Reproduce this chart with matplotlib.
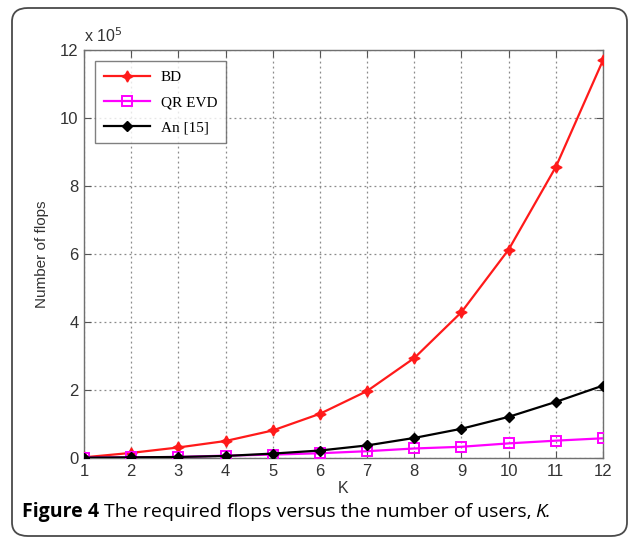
import matplotlib
matplotlib.use("Agg")
import matplotlib.pyplot as plt
from matplotlib.patches import FancyBboxPatch
from matplotlib.ticker import FuncFormatter

plt.rcParams["font.family"] = ["Liberation Sans", "DejaVu Sans"]

# Number of users
K = [1, 2, 3, 4, 5, 6, 7, 8, 9, 10, 11, 12]

# Required flops for each scheme
flops_bd = [0.02e5, 0.15e5, 0.31e5, 0.50e5, 0.81e5, 1.30e5, 1.97e5, 2.94e5, 4.29e5, 6.13e5, 8.56e5, 11.70e5]
flops_qr_evd = [0.01e5, 0.02e5, 0.03e5, 0.07e5, 0.10e5, 0.14e5, 0.20e5, 0.28e5, 0.33e5, 0.43e5, 0.51e5, 0.58e5]
flops_an = [0.01e5, 0.02e5, 0.03e5, 0.06e5, 0.13e5, 0.22e5, 0.37e5, 0.59e5, 0.86e5, 1.21e5, 1.65e5, 2.13e5]

series_labels = ["BD", "QR EVD", "An [15]"]
y_ticks = [0, 2e5, 4e5, 6e5, 8e5, 10e5, 12e5]

W, H = 635, 542
fig = plt.figure(figsize=(W / 100, H / 100), dpi=100)

# rounded frame around figure and caption
frame = FancyBboxPatch((12 / W, 6 / H), (W - 20) / W, (H - 14) / H,
                       boxstyle="round,pad=0,rounding_size=0.025",
                       transform=fig.transFigure, facecolor="none",
                       edgecolor="#4a4a4a", linewidth=1.3, zorder=-5)
fig.patches.append(frame)

ax = fig.add_axes([84 / W, 1 - 458 / H, (603 - 84) / W, (458 - 50) / H])

ax.plot(K, flops_bd, color="#ff1a1a", lw=1.6, marker=(4, 1, 0), ms=8,
        label=series_labels[0], zorder=3)
ax.plot(K, flops_qr_evd, color="#ff00ff", lw=1.6, marker="s", ms=7,
        mfc="none", mew=1.4, label=series_labels[1], zorder=3)
ax.plot(K, flops_an, color="black", lw=1.6, marker="D", ms=5,
        label=series_labels[2], zorder=4)

ax.set_xlim(1, 12)
ax.set_ylim(0, 12e5)
ax.set_xticks(K)
ax.set_yticks(y_ticks)
ax.yaxis.set_major_formatter(FuncFormatter(lambda v, p: f"{v / 1e5:g}"))

ax.grid(True, linestyle=(0, (1.5, 2.5)), color="#8a8a8a", linewidth=0.9)
ax.tick_params(direction="in", top=True, right=True, length=5,
               colors="#555555", labelcolor="#333333", labelsize=12,
               pad=4)
for s in ax.spines.values():
    s.set_color("#707070")
    s.set_linewidth(1.0)

ax.set_xlabel("K", fontsize=11.5, color="#333333", labelpad=2)
ax.set_ylabel("Number of flops", fontsize=11, color="#333333", labelpad=8)
ax.text(0.0, 1.012, r"x 10$^{5}$", transform=ax.transAxes, fontsize=11.5,
        color="#333333", ha="left", va="bottom")

leg = ax.legend(loc="upper left", bbox_to_anchor=(0.021, 0.973),
                prop={"family": "Liberation Serif", "size": 11},
                frameon=True, fancybox=False, edgecolor="#606060",
                handlelength=3.0, borderpad=0.6, labelspacing=0.75,
                handletextpad=0.7, borderaxespad=0)
leg.get_frame().set_linewidth(1.0)

# caption
cap_y = 1 - 512 / H
cap_size = 14
t1 = fig.text(22 / W, cap_y, "Figure 4", fontsize=cap_size, fontweight="bold",
              family="Open Sans", va="center", ha="left")
fig.canvas.draw()
bb = t1.get_window_extent()
x2 = (bb.x1 + 5) / W
t2 = fig.text(x2, cap_y, "The required flops versus the number of users,",
              fontsize=cap_size, family="Open Sans", va="center", ha="left")
fig.canvas.draw()
bb2 = t2.get_window_extent()
fig.text((bb2.x1 + 4) / W, cap_y, "K.", fontsize=cap_size, family="Open Sans",
         style="italic", va="center", ha="left")

fig.savefig("out.png", dpi=100)
